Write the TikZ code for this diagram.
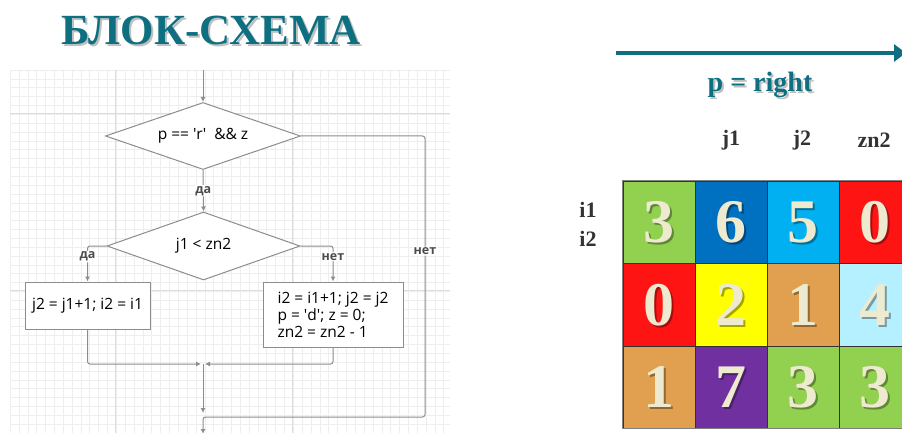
\documentclass[tikz,border=0pt]{standalone}
\usepackage{fontspec}
\setmainfont{Liberation Serif}
\newfontfamily\flowfont{Open Sans}
\usetikzlibrary{arrows.meta,positioning,shapes.geometric,calc}

\definecolor{titleteal}{HTML}{0E6F80}
\definecolor{flowline}{HTML}{8C8C8C}
\definecolor{gridminor}{HTML}{EEEEEE}
\definecolor{gridmajor}{HTML}{DDDDDD}
\definecolor{numcream}{HTML}{EEEAD0}
\definecolor{cgreen}{HTML}{92D050}
\definecolor{cblue}{HTML}{0070C0}
\definecolor{csky}{HTML}{00B0F0}
\definecolor{cred}{HTML}{FF1414}
\definecolor{cyellow}{HTML}{FFFF00}
\definecolor{ctan}{HTML}{E0A050}
\definecolor{cice}{HTML}{B4F0FF}
\definecolor{cpurple}{HTML}{7030A0}

\begin{document}
\begin{tikzpicture}[
    x=1pt, y=-1pt,
    decision/.style={diamond, draw=flowline, line width=1pt, fill=white, inner sep=0pt, font=\flowfont\fontsize{15.5}{17}\selectfont},
    procbox/.style={draw=flowline, line width=1pt, fill=white, inner sep=3pt, font=\flowfont\fontsize{15.5}{17}\selectfont},
    conn/.style={draw=flowline, line width=1pt, rounded corners=2.5pt, -{Latex[length=5pt,width=5pt]}},
    branch/.style={font=\flowfont\bfseries\fontsize{12.5}{13}\selectfont, text=black!70, fill=white, inner sep=1pt},
    dirline/.style={draw=titleteal, line width=4pt, -{Triangle[length=12pt,width=17pt]}},
    cell/.style={draw=black!80, line width=0.8pt, minimum width=72pt, minimum height=82.4pt, inner sep=0pt},
    num/.style={font=\bfseries\fontsize{62}{62}\selectfont, text=numcream},
    axis/.style={font=\bfseries\fontsize{22}{22}\selectfont, text=black!80}
  ]
    \useasboundingbox (0,0) rectangle (902,433);
    \clip (0,0) rectangle (902,433);

    % title
    \node[font=\bfseries\fontsize{43}{43}\selectfont, text=black, opacity=0.25] at (213,32) {БЛОК-СХЕМА};
    \node[font=\bfseries\fontsize{43}{43}\selectfont, text=titleteal] (title) at (211,30) {БЛОК-СХЕМА};

    % grid paper
    \foreach \gx in {10,18.85,...,450} \draw[gridminor] (\gx,70) -- (\gx,433);
    \foreach \gy in {70,78.85,...,433} \draw[gridminor] (10,\gy) -- (450,\gy);
    \foreach \gx in {115,292} \draw[gridmajor] (\gx,70) -- (\gx,433);
    \foreach \gy in {113,290} \draw[gridmajor] (10,\gy) -- (450,\gy);

    % flowchart
    \coordinate (start) at (203,70);
    \node[decision, aspect=2.9, minimum width=195pt, minimum height=67pt] (cond) at (203,136) {p == \textquotesingle r\textquotesingle~ \&\& z};
    \node[decision, aspect=2.84, minimum width=193pt, minimum height=68pt] (cmp) at (203.5,246) {j1 < zn2};
    \node[procbox, minimum width=125pt, minimum height=47pt] (stepA) at (87.5,305.5) {j2 = j1+1; i2 = i1};
    \node[procbox, minimum width=140pt, minimum height=65pt, align=left] (stepB) at (333,314.5)
      {i2 = i1+1; j2 = j2\\p = \textquotesingle d\textquotesingle; z = 0;\\zn2 = zn2 - 1};
    \coordinate (merge) at (203,364);
    \coordinate (join) at (203,417);
    \coordinate (bypass) at (425,417);
    \coordinate (exit) at (203,434);

    \draw[conn] (start) -- (cond.north);
    \draw[conn] (cond.south) -- node[branch] {да} (cmp.north);
    \draw[conn] (cmp.west) -| node[branch, pos=0.65] {да} (stepA.north);
    \draw[conn] (cmp.east) -| node[branch, pos=0.65] {нет} (stepB.north);
    \draw[conn, shorten >=2pt] (stepA.south) |- (merge);
    \draw[conn, shorten >=2pt] (stepB.south) |- (merge);
    \draw[conn, shorten >=4pt] (merge) -- (join);
    \draw[conn] (cond.east) -| node[branch, pos=0.705] {нет} (bypass) -- (join) -- (exit);

    % direction arrow
    \coordinate (dirA) at (616,53);
    \coordinate (dirB) at (906,53);
    \draw[dirline] (dirA) -- (dirB);
    \node[font=\bfseries\fontsize{28}{28}\selectfont, text=black, opacity=0.25] at (762,87) {p = right};
    \node[font=\bfseries\fontsize{28}{28}\selectfont, text=titleteal] (dir) at (760,85) {p = right};

    % matrix cells
    \foreach \rowvals [count=\r] in {{cgreen/3,cblue/6,csky/5,cred/0},{cred/0,cyellow/2,ctan/1,cice/4},{ctan/1,cpurple/7,cgreen/3,cgreen/3}} {
      \foreach \cc/\n [count=\c] in \rowvals {
        \node[cell, fill=\cc] (cell-\r-\c) at ({587+72*\c},{140+82.4*\r}) {};
        \node[num, text=black, opacity=0.35] at ([xshift=2pt,yshift=-2pt]cell-\r-\c.center) {\n};
        \node[num] at (cell-\r-\c) {\n};
      }
    }
    \draw[black!50, line width=1pt] (cell-1-1.north west) rectangle (cell-3-4.south east);

    % indices
    \node[axis] (lbl-j1) at (731,140) {j1};
    \node[axis] (lbl-j2) at (802,140) {j2};
    \node[axis] (lbl-zn2) at (874,140) {zn2};
    \node[axis] (lbl-i1) at (588,210) {i1};
    \node[axis] (lbl-i2) at (588,239) {i2};
  \end{tikzpicture}
\end{document}
